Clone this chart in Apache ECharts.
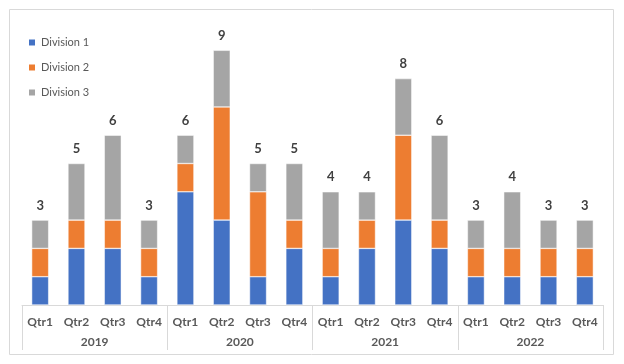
<!DOCTYPE html>
<html><head><meta charset="utf-8">
<script src="https://cdn.jsdelivr.net/npm/echarts@6/dist/echarts.min.js"></script>
<style>html,body{margin:0;padding:0;background:#fff}#c{width:624px;height:364px}</style>
</head><body><div id="c"></div>
<script>
var quarters = ['Qtr1','Qtr2','Qtr3','Qtr4','Qtr1','Qtr2','Qtr3','Qtr4','Qtr1','Qtr2','Qtr3','Qtr4','Qtr1','Qtr2','Qtr3','Qtr4'];
var years = ['2019','2020','2021','2022'];
var division1 = [1,2,2,1, 4,3,1,2, 1,2,3,2, 1,1,1,1];
var division2 = [1,1,1,1, 1,4,3,1, 1,1,3,1, 1,1,1,1];
var division3 = [1,2,3,1, 1,2,1,2, 2,1,2,3, 1,2,1,1];
var totals = division1.map(function(v,i){return v+division2[i]+division3[i];});

var font = 'Lato, "Noto Sans", sans-serif';
var chart = echarts.init(document.getElementById('c'));
function bar(name, data, color, withLabel){
  var s = {name:name, type:'bar', stack:'a', data:data, barWidth:17,
    itemStyle:{color:color, borderColor:'#fff', borderWidth:0.5}};
  if(withLabel){
    s.label = {show:true, position:'top', distance:8, fontFamily:font, fontWeight:'bold', fontSize:13, color:'#404040',
      formatter:function(p){return totals[p.dataIndex];}};
  }
  return s;
}
chart.setOption({
  animation:false,
  textStyle:{fontFamily:font},
  graphic:[{type:'rect', shape:{x:9.5,y:9.5,width:604,height:345}, style:{fill:'none', stroke:'#d9d9d9', lineWidth:1}, z:-1}],
  legend:{orient:'vertical', left:22, top:32, itemGap:14, itemWidth:8, itemHeight:8, icon:'rect',
    textStyle:{fontSize:11, color:'#595959', fontFamily:font},
    data:['Division 1','Division 2','Division 3']},
  grid:{left:22, right:21, top:22, bottom:59},
  xAxis:[
    {type:'category', data:quarters, position:'bottom',
     axisLine:{show:true, lineStyle:{color:'#d9d9d9'}}, axisTick:{show:false},
     axisLabel:{margin:11, fontSize:12, fontWeight:'bold', color:'#595959', fontFamily:font, interval:0}},
    {type:'category', data:years, position:'bottom', gridIndex:0,
     axisLine:{show:false}, axisTick:{show:true, length:45, lineStyle:{color:'#d9d9d9'}},
     axisLabel:{margin:31, fontSize:12, fontWeight:'bold', color:'#595959', fontFamily:font, interval:0}}
  ],
  yAxis:{type:'value', min:0, max:10, show:false, splitLine:{show:false}},
  series:[
    bar('Division 1', division1, '#4472C4', false),
    bar('Division 2', division2, '#ED7D31', false),
    bar('Division 3', division3, '#A5A5A5', true)
  ]
});
</script></body></html>
